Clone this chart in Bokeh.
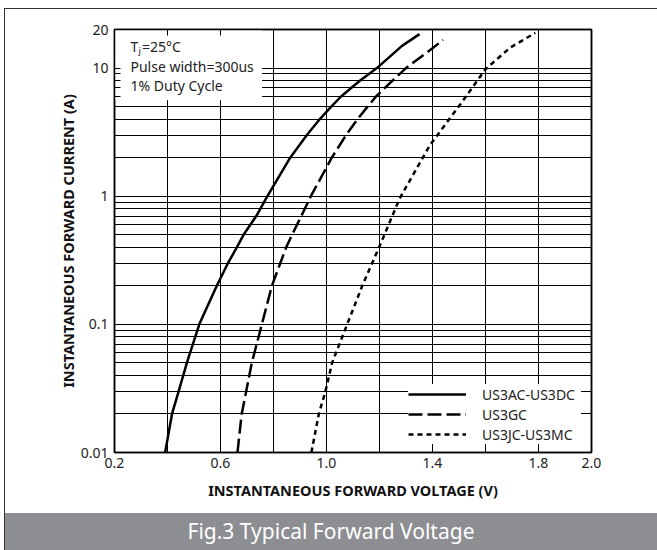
from bokeh.plotting import figure
from bokeh.models import (FixedTicker, LinearAxis, LogAxis, BoxAnnotation, Label,
                          Legend, LegendItem, Div, CustomJSTickFormatter)
from bokeh.layouts import column
from bokeh.embed import file_html
from bokeh.resources import INLINE

# ---- data ----
solid_i = [0.01, 0.02, 0.03, 0.05, 0.1, 0.2, 0.3, 0.4, 0.5, 0.7, 1, 2, 3, 4, 5, 6, 7, 8, 9, 10, 14.9, 18.4]
solid_v = [0.391, 0.417, 0.442, 0.473, 0.52, 0.586, 0.628, 0.662, 0.687, 0.735, 0.777,
           0.863, 0.926, 0.975, 1.018, 1.055, 1.093, 1.127, 1.16, 1.19, 1.285, 1.351]

dash_i = [0.01, 0.02, 0.03, 0.05, 0.1, 0.2, 0.4, 0.5, 0.7, 1, 2, 3, 4, 5, 6, 7.7, 10, 14.3, 16.6]
dash_v = [0.664, 0.68, 0.697, 0.718, 0.756, 0.794, 0.848, 0.870, 0.905, 0.941, 1.02,
          1.074, 1.117, 1.155, 1.187, 1.241, 1.30, 1.4, 1.44]

dot_i = [0.01, 0.02, 0.03, 0.05, 0.1, 0.2, 0.42, 0.96, 2.5, 5.25, 9.8, 14.5, 18.8]
dot_v = [0.943, 0.971, 0.996, 1.021, 1.078, 1.135, 1.203, 1.276, 1.39, 1.506, 1.6, 1.694, 1.788]

series_names = ["US3AC-US3DC", "US3GC", "US3JC-US3MC"]

x_major = [0.2, 0.6, 1.0, 1.4, 1.8, 2.0]
x_labels = ["0.2", "0.6", "1.0", "1.4", "1.8", "2.0"]
x_minor = [0.4, 0.8, 1.2, 1.6]

y_major = [0.01, 0.1, 1, 10, 20]
y_labels = ["0.01", "0.1", "1", "10", "20"]
y_minor = [0.02, 0.03, 0.04, 0.05, 0.06, 0.07, 0.08, 0.09,
           0.2, 0.3, 0.4, 0.5, 0.6, 0.7, 0.8, 0.9,
           2, 3, 4, 5, 6, 7, 8, 9]

FONT = "Noto Sans"

p = figure(width=652, height=504, x_range=(0.2, 2.0), y_range=(0.01, 20),
           y_axis_type="log", output_backend="svg", toolbar_location=None,
           min_border_left=109, min_border_right=66, min_border_top=20,
           min_border_bottom=61)
p.background_fill_color = "white"
p.border_fill_color = "white"
p.outline_line_color = "black"
p.outline_line_width = 1.5

xticker = FixedTicker(ticks=x_major, minor_ticks=x_minor)
yticker = FixedTicker(ticks=y_major, minor_ticks=y_minor)

xfmt = CustomJSTickFormatter(args=dict(t=x_major, l=x_labels),
                             code="const i = t.indexOf(tick); return i >= 0 ? l[i] : '';")
yfmt = CustomJSTickFormatter(args=dict(t=y_major, l=y_labels),
                             code="const i = t.indexOf(tick); return i >= 0 ? l[i] : '';")

p.xaxis.ticker = xticker
p.yaxis.ticker = yticker
p.xaxis.formatter = xfmt
p.yaxis.formatter = yfmt
p.xgrid.ticker = xticker
p.ygrid.ticker = yticker

for g in (p.xgrid, p.ygrid):
    g.grid_line_color = "black"
    g.grid_line_width = 1
    g.minor_grid_line_color = "black"
    g.minor_grid_line_width = 1


def style_axis(ax, labels=True):
    ax.axis_line_color = "black"
    ax.axis_line_width = 1.5
    ax.major_tick_in = 6
    ax.major_tick_out = 0
    ax.minor_tick_in = 6
    ax.minor_tick_out = 0
    ax.major_tick_line_color = "black"
    ax.minor_tick_line_color = "black"
    ax.major_tick_line_width = 1
    ax.minor_tick_line_width = 1
    ax.major_label_text_font = FONT
    ax.major_label_text_font_size = "14px"
    if labels:
        ax.major_label_text_color = "#222222"
    else:
        ax.major_label_text_color = None
        ax.major_label_standoff = 0


for ax in p.xaxis:
    style_axis(ax)
    ax.major_label_standoff = 5
    ax.axis_label = "INSTANTANEOUS FORWARD VOLTAGE (V)"
    ax.axis_label_standoff = 9
for ax in p.yaxis:
    style_axis(ax)
    ax.major_label_standoff = 6
    ax.axis_label = "INSTANTANEOUS FORWARD CURRENT (A)"
    ax.axis_label_standoff = 0
for ax in list(p.xaxis) + list(p.yaxis):
    ax.axis_label_text_font = FONT
    ax.axis_label_text_font_style = "bold"
    ax.axis_label_text_font_size = "14.5px"
    ax.axis_label_text_color = "#111111"

top_ax = LinearAxis(ticker=xticker, formatter=xfmt)
style_axis(top_ax, labels=False)
p.add_layout(top_ax, "above")
right_ax = LogAxis(ticker=yticker, formatter=yfmt)
style_axis(right_ax, labels=False)
p.add_layout(right_ax, "right")

# white box behind the conditions text (hides grid, axis ticks stay)
p.add_layout(BoxAnnotation(left=0.2, right=0.757, bottom=5.6, top=20,
                           fill_color="white", fill_alpha=1, line_color=None,
                           level="glyph"))

r1 = p.line(solid_v, solid_i, line_color="black", line_width=2.5)
r2 = p.line(dash_v, dash_i, line_color="black", line_width=2.5, line_dash="14 5")
r3 = p.line(dot_v, dot_i, line_color="black", line_width=2.5, line_dash="5 4")

legend = Legend(items=[LegendItem(label=series_names[0], renderers=[r1]),
                       LegendItem(label=series_names[1], renderers=[r2]),
                       LegendItem(label=series_names[2], renderers=[r3])],
                location=(294, 8), border_line_color=None,
                background_fill_color="white", background_fill_alpha=1,
                padding=5, spacing=0, margin=0, glyph_width=58, glyph_height=20,
                label_standoff=16, label_width=99, label_height=20,
                label_text_font=FONT, label_text_font_size="14px",
                label_text_color="#222222", level="glyph")
p.add_layout(legend, "center")

# conditions text
txt = dict(x=0.2, y=20, text_font=FONT, text_baseline="middle", text_color="#222222")
p.add_layout(Label(text="T", x_offset=16, y_offset=-17, text_font_size="14px", **txt))
p.add_layout(Label(text="j", x_offset=24, y_offset=-21, text_font_size="9px", **txt))
p.add_layout(Label(text="=25°C", x_offset=27.5, y_offset=-17, text_font_size="14px", **txt))
p.add_layout(Label(text="Pulse width=300us", x_offset=16, y_offset=-37, text_font_size="14px", **txt))
p.add_layout(Label(text="1% Duty Cycle", x_offset=16, y_offset=-56, text_font_size="14px", **txt))

band = Div(text="Fig.3 Typical Forward Voltage", width=652, height=37, margin=0,
           styles={"background-color": "#8d8e92", "color": "white",
                   "font-family": FONT, "font-size": "21px",
                   "text-align": "center", "line-height": "37px"})

layout = column(p, band, spacing=0, margin=(8, 0, 0, 4),
                styles={"border-top": "1px solid #333333",
                        "border-left": "1px solid #333333"})

open("out.html", "w").write(file_html(layout, INLINE))
